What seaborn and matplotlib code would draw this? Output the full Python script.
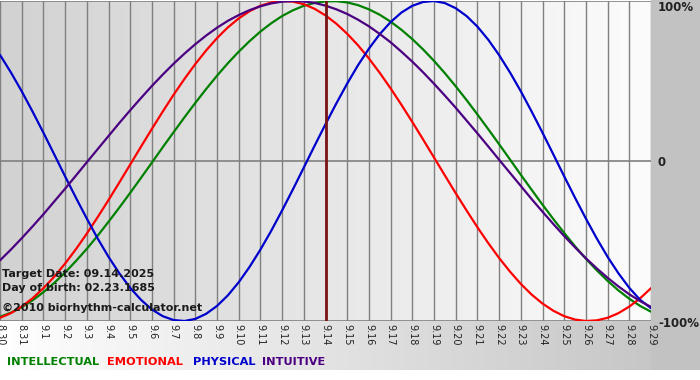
import matplotlib
matplotlib.use("Agg")
import matplotlib.pyplot as plt
from matplotlib.colors import LinearSegmentedColormap
import numpy as np
import pandas as pd
import seaborn as sns


DAY_LABELS = ["8.30", "8.31", "9.1", "9.2", "9.3", "9.4", "9.5", "9.6", "9.7", "9.8",
              "9.9", "9.10", "9.11", "9.12", "9.13", "9.14", "9.15", "9.16", "9.17",
              "9.18", "9.19", "9.20", "9.21", "9.22", "9.23", "9.24", "9.25", "9.26",
              "9.27", "9.28", "9.29"]
TARGET_DAY = "9.14"

# values every half day (8.30 00h, 8.30 12h, 8.31 00h ...), -1..1
INTELLECTUAL = [-0.974, -0.948, -0.914, -0.871, -0.820, -0.762, -0.697, -0.625, -0.549, -0.467,
                -0.380, -0.291, -0.199, -0.105, -0.010, 0.086, 0.180, 0.273, 0.363, 0.450,
                0.533, 0.611, 0.683, 0.749, 0.809, 0.861, 0.906, 0.942, 0.970, 0.988,
                0.998, 0.999, 0.991, 0.974, 0.948, 0.914, 0.871, 0.820, 0.762, 0.697,
                0.626, 0.549, 0.467, 0.381, 0.291, 0.199, 0.105, 0.010, -0.086, -0.180,
                -0.273, -0.363, -0.450, -0.533, -0.611, -0.683, -0.749, -0.809, -0.861, -0.906,
                -0.942]
EMOTIONAL = [-0.980, -0.951, -0.910, -0.858, -0.795, -0.723, -0.641, -0.551, -0.454, -0.351,
             -0.244, -0.134, -0.022, 0.090, 0.201, 0.309, 0.414, 0.513, 0.606, 0.691,
             0.768, 0.835, 0.891, 0.936, 0.970, 0.991, 1.000, 0.996, 0.980, 0.951,
             0.910, 0.858, 0.795, 0.723, 0.641, 0.551, 0.454, 0.351, 0.244, 0.134,
             0.022, -0.090, -0.201, -0.309, -0.414, -0.513, -0.606, -0.691, -0.768, -0.835,
             -0.891, -0.936, -0.970, -0.991, -1.000, -0.996, -0.980, -0.951, -0.910, -0.858,
             -0.795]
PHYSICAL = [0.663, 0.554, 0.436, 0.309, 0.177, 0.041, -0.096, -0.230, -0.360, -0.484,
            -0.599, -0.702, -0.793, -0.868, -0.928, -0.970, -0.994, -1.000, -0.987, -0.955,
            -0.906, -0.840, -0.758, -0.662, -0.554, -0.436, -0.309, -0.177, -0.041, 0.096,
            0.230, 0.360, 0.484, 0.599, 0.702, 0.793, 0.868, 0.928, 0.970, 0.994,
            1.000, 0.987, 0.955, 0.906, 0.840, 0.758, 0.662, 0.554, 0.436, 0.309,
            0.177, 0.041, -0.096, -0.230, -0.360, -0.484, -0.599, -0.702, -0.793, -0.868,
            -0.920]
INTUITIVE = [-0.621, -0.554, -0.483, -0.409, -0.333, -0.253, -0.173, -0.091, -0.008, 0.074,
             0.156, 0.238, 0.317, 0.394, 0.469, 0.540, 0.608, 0.671, 0.730, 0.784,
             0.833, 0.876, 0.912, 0.943, 0.967, 0.985, 0.996, 1.000, 0.997, 0.988,
             0.971, 0.948, 0.919, 0.883, 0.842, 0.794, 0.742, 0.683, 0.621, 0.554,
             0.483, 0.409, 0.333, 0.253, 0.173, 0.091, 0.008, -0.074, -0.156, -0.238,
             -0.317, -0.394, -0.469, -0.540, -0.608, -0.671, -0.730, -0.784, -0.833, -0.876,
             -0.912]

RHYTHMS = ["INTELLECTUAL", "EMOTIONAL", "PHYSICAL", "INTUITIVE"]
PALETTE = {
    "INTELLECTUAL": "#008000",
    "EMOTIONAL": "#ff0000",
    "PHYSICAL": "#0000cc",
    "INTUITIVE": "#4b0082",
}
W, H = 700, 380


def fx(px):
    return px / W


def fy(py):
    return 1 - py / H


frames = []
for name, vals in zip(RHYTHMS, [INTELLECTUAL, EMOTIONAL, PHYSICAL, INTUITIVE]):
    frames.append(pd.DataFrame({"day": np.arange(len(vals)) / 2, "value": vals, "rhythm": name}))
df = pd.concat(frames, ignore_index=True)

sns.set_style("white")
plt.rcParams["font.family"] = ["DejaVu Sans"]

fig = plt.figure(figsize=(W / 100, H / 100), dpi=100)

# figure background: gradient band under the plot, gray margin on the right
bg = fig.add_axes([0, 0, 1, 1])
bg.set_zorder(0)
bg.set_xlim(0, W)
bg.set_ylim(H, 0)
bg.axis("off")
band_cmap = LinearSegmentedColormap.from_list("band", ["#ffffff", "#c6c6c6"])
bg.imshow(np.linspace(0, 1, 256).reshape(1, -1), cmap=band_cmap, aspect="auto",
          extent=[0, 660, 370, 321])
bg.add_patch(plt.Rectangle((651, 0), 49, 370, color="#c2c2c2", lw=0))

ax = fig.add_axes([0, fy(321), fx(651), (321 - 1) / H])
ax.set_zorder(1)
ax.patch.set_visible(False)
n = len(DAY_LABELS) - 1
plot_cmap = LinearSegmentedColormap.from_list("plot", ["#d2d2d2", "#fcfcfc"])
ax.imshow(np.linspace(0, 1, 256).reshape(1, -1), cmap=plot_cmap, aspect="auto",
          extent=[0, n, -1, 1], zorder=0)

for i in range(len(DAY_LABELS)):
    ax.axvline(i, color="#808080", lw=1, zorder=1)
for yv in (-1, 0, 1):
    ax.axhline(yv, color="#808080", lw=1.2, zorder=1)

sns.lineplot(data=df, x="day", y="value", hue="rhythm", hue_order=RHYTHMS,
             palette=PALETTE, linewidth=1.6, legend=False, errorbar=None,
             ax=ax, zorder=3)
for line in ax.get_lines():
    line.set_solid_joinstyle("round")

ax.axvline(DAY_LABELS.index(TARGET_DAY), color="#7a1414", lw=2, zorder=4)

ax.set_xlim(0, n)
ax.set_ylim(-1, 1)
ax.set_xlabel("")
ax.set_ylabel("")
ax.set_yticks([])
ax.set_xticks(range(len(DAY_LABELS)))
ax.set_xticklabels(DAY_LABELS, rotation=270, fontsize=7, color="#222222")
ax.tick_params(axis="x", length=0, pad=2)
for s in ax.spines.values():
    s.set_visible(False)

# right-hand scale labels
for txt, py in [("100%", 11), ("0", 166), ("-100%", 327)]:
    fig.text(fx(658), fy(py), txt, fontsize=8.5, fontweight="bold", color="#222222",
             va="baseline", ha="left")

# info text in the lower left of the plot
for txt, py in [("Target Date: 09.14.2025", 277), ("Day of birth: 02.23.1685", 291),
                ("\u00a92010 biorhythm-calculator.net", 311)]:
    fig.text(fx(2), fy(py), txt, fontsize=8, fontweight="bold", color="#1a1a1a",
             va="baseline", ha="left", zorder=5)

# colored legend words
for name, px in zip(RHYTHMS, [7, 107, 193, 262]):
    fig.text(fx(px), fy(365), name, fontsize=8.2, fontweight="bold", color=PALETTE[name],
             va="baseline", ha="left")

fig.savefig("out.png", dpi=100)
